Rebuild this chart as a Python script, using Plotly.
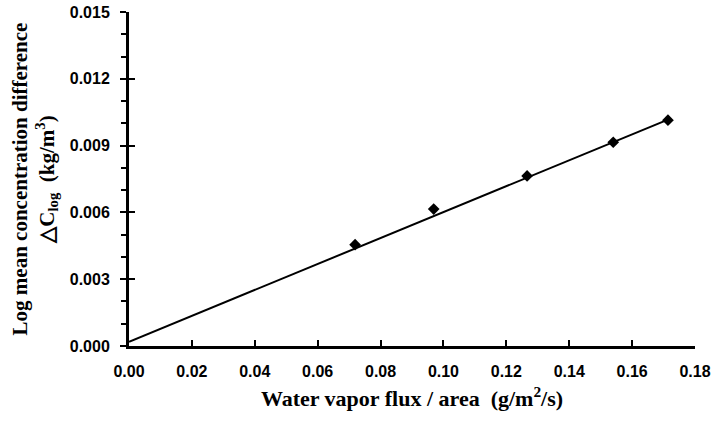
import plotly.graph_objects as go

# Data
flux = [0.0719, 0.0969, 0.1266, 0.1540, 0.1714]          # g/m2/s
dclog = [0.00455, 0.00615, 0.00764, 0.00915, 0.01014]     # kg/m3

# Fitted straight line (end points)
fit_x = [0.0, 0.1714]
fit_y = [0.00019, 0.01017]

x_ticks = [0.00, 0.02, 0.04, 0.06, 0.08, 0.10, 0.12, 0.14, 0.16, 0.18]
x_labels = ["0.00", "0.02", "0.04", "0.06", "0.08", "0.10", "0.12", "0.14", "0.16", "0.18"]
y_ticks = [0.000, 0.003, 0.006, 0.009, 0.012, 0.015]
y_labels = ["0.000", "0.003", "0.006", "0.009", "0.012", "0.015"]

SANS = "Liberation Sans, Arial, sans-serif"
SERIF = "Liberation Serif, Times New Roman, serif"

fig = go.Figure()
fig.add_trace(go.Scatter(x=fit_x, y=fit_y, mode="lines",
                         line=dict(color="black", width=2), cliponaxis=False,
                         showlegend=False, hoverinfo="skip"))
fig.add_trace(go.Scatter(x=flux, y=dclog, mode="markers",
                         marker=dict(symbol="diamond", size=9, color="black"),
                         cliponaxis=False, showlegend=False))
# dummy trace on the overlay axis (for inside part of crossing major ticks)
fig.add_trace(go.Scatter(x=[None], y=[None], yaxis="y2", showlegend=False, hoverinfo="skip"))

fig.update_layout(
    width=712, height=421,
    margin=dict(l=129, r=17, t=12, b=75),
    paper_bgcolor="white", plot_bgcolor="white",
    showlegend=False,
    font=dict(color="#000000"),
    xaxis=dict(
        range=[0, 0.18], tickvals=x_ticks, ticktext=x_labels,
        showgrid=False, zeroline=False, automargin=False,
        showline=True, linecolor="black", linewidth=3,
        ticks="inside", ticklen=6, tickwidth=2, tickcolor="black",
        ticklabelstandoff=9, ticklabeloverflow="allow",
        tickfont=dict(family=SANS, size=16, color="#000000", weight="bold"),
        title=dict(text="Water vapor flux / area\u00a0\u00a0(g/m<sup>2</sup>/s)",
                   font=dict(family=SERIF, size=22, color="#000000", weight="bold"),
                   standoff=12),
    ),
    yaxis=dict(
        range=[0, 0.015], tickvals=y_ticks, ticktext=y_labels,
        showgrid=False, zeroline=False, automargin=False,
        showline=True, linecolor="black", linewidth=3,
        ticks="outside", ticklen=6, tickwidth=2, tickcolor="black",
        minor=dict(ticks="outside", ticklen=5, tickwidth=2, tickcolor="black", dtick=0.001, showgrid=False),
        ticklabelstandoff=7, ticklabeloverflow="allow",
        tickfont=dict(family=SANS, size=16, color="#000000", weight="bold"),
        title=dict(text="Log mean concentration difference<br>\u25b3C<sub>log</sub>\u00a0\u00a0(kg/m<sup>3</sup>)",
                   font=dict(family=SERIF, size=21, color="#000000", weight="bold"),
                   standoff=10),
    ),
    yaxis2=dict(
        range=[0, 0.015], tickvals=y_ticks, overlaying="y", anchor="x", side="left",
        showgrid=False, zeroline=False, showline=False, showticklabels=False,
        automargin=False,
        ticks="inside", ticklen=6, tickwidth=2, tickcolor="black",
    ),
)

fig.write_html("out.html")
